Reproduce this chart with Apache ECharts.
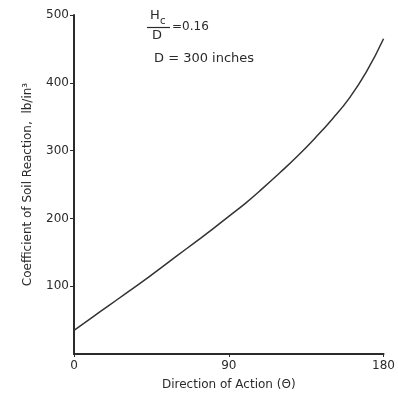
<!DOCTYPE html>
<html>
<head>
<meta charset="utf-8">
<script src="https://cdn.jsdelivr.net/npm/echarts@6/dist/echarts.min.js"></script>
<style>
  html, body { margin: 0; padding: 0; background: #fff; }
  #chart { width: 398px; height: 396px; }
</style>
</head>
<body>
<div id="chart"></div>
<script>
(function () {
    'use strict';

    // direction of action, degrees
    var theta = [0, 10, 20, 30, 40, 50, 60, 70, 80, 90, 100, 110, 120, 130, 140, 150, 160, 170, 180];
    // coefficient of soil reaction, lb/in^3
    var coeff = [35, 53, 71, 89, 107, 126, 145, 164, 183, 203, 223, 245, 268, 292, 318, 346, 377, 416, 465];
    var xTicks = [0, 90, 180];
    var yTicks = [100, 200, 300, 400, 500];

    var font = 'DejaVu Sans';
    var ink = '#2b2b2b';

    var points = theta.map(function (t, i) { return [t, coeff[i]]; });

    var option = {
        animation: false,
        backgroundColor: '#fff',
        grid: { left: 74, right: 13, top: 15, bottom: 38 },
        xAxis: {
            type: 'value',
            min: 0,
            max: 180,
            interval: 90,
            name: 'Direction of Action (\u0398)',
            nameLocation: 'middle',
            nameGap: 25,
            nameTextStyle: { fontFamily: font, fontSize: 12, color: ink },
            axisLine: { lineStyle: { color: ink, width: 2 } },
            axisTick: { show: true, length: 3, lineStyle: { color: ink } },
            axisLabel: {
                fontFamily: font, fontSize: 12, color: ink, margin: 6,
                formatter: function (v) { return xTicks.indexOf(v) >= 0 ? String(v) : ''; }
            },
            splitLine: { show: false }
        },
        yAxis: {
            type: 'value',
            min: 0,
            max: 500,
            interval: 100,
            name: 'Coefficient of Soil Reaction,  lb/in\u00B3',
            nameLocation: 'middle',
            nameGap: 40,
            nameTextStyle: { fontFamily: font, fontSize: 12, color: ink },
            axisLine: { show: true, lineStyle: { color: ink, width: 2 } },
            axisTick: { show: true, length: 4, lineStyle: { color: ink } },
            axisLabel: {
                fontFamily: font, fontSize: 12, color: ink, margin: 5,
                showMinLabel: false,
                formatter: function (v) { return yTicks.indexOf(v) >= 0 ? String(v) : ''; }
            },
            splitLine: { show: false }
        },
        graphic: [
            { type: 'text', left: 150, top: 9, style: { text: 'H', font: '13px ' + font, fill: ink } },
            { type: 'text', left: 160, top: 16, style: { text: 'c', font: '10px ' + font, fill: ink } },
            { type: 'line', shape: { x1: 147, y1: 27.5, x2: 170, y2: 27.5 }, style: { stroke: ink, lineWidth: 1.2 } },
            { type: 'text', left: 152, top: 29, style: { text: 'D', font: '13px ' + font, fill: ink } },
            { type: 'text', left: 172, top: 21, style: { text: '=0.16', font: '12px ' + font, fill: ink } },
            { type: 'text', left: 154, top: 52, style: { text: 'D = 300 inches', font: '13px ' + font, fill: ink } }
        ],
        series: [{
            type: 'line',
            data: points,
            smooth: true,
            showSymbol: false,
            lineStyle: { color: '#333', width: 1.5 }
        }]
    };

    var myChart = echarts.init(document.getElementById('chart'));
    myChart.setOption(option);
})();
</script>
</body>
</html>
